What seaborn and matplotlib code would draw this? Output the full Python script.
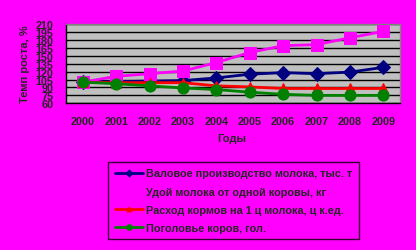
import matplotlib
matplotlib.use("Agg")
import matplotlib.pyplot as plt
import seaborn as sns
import pandas as pd
import numpy as np

years = ["2000", "2001", "2002", "2003", "2004", "2005", "2006", "2007", "2008", "2009"]
series_names = [
    "Валовое производство молока, тыс. т",
    "Удой молока от одной коровы, кг",
    "Расход кормов на 1 ц молока, ц к.ед.",
    "Поголовье коров, гол.",
]
gross_milk = [100, 101, 102, 103, 108, 115, 118, 116, 119, 128]
milk_yield = [100, 111, 116, 121, 137, 156, 169, 171, 184, 196]
feed_use = [100, 99, 99, 99, 93, 91, 88, 88, 88, 88]
cow_count = [100, 97, 93, 89, 86, 81, 77, 75, 75, 75]
y_ticks = [60, 75, 90, 105, 120, 135, 150, 165, 180, 195, 210]

colors = ["#000080", "#FF00FF", "#FF0000", "#008000"]
markers = ["D", "s", "^", "o"]
msizes = [7, 8.5, 7, 8]

sns.set_style("white")
plt.rcParams['font.family'] = ['Liberation Sans', 'DejaVu Sans']

fig = plt.figure(figsize=(4.16, 2.51), dpi=100)
fig.patch.set_facecolor("#FF00FF")
ax = fig.add_axes([66/416, 1-104.3/251, 334/416, 79.3/251])
ax.set_facecolor("#C0C0C0")

all_vals = [gross_milk, milk_yield, feed_use, cow_count]
handles = []
for i, (name, vals) in enumerate(zip(series_names, all_vals)):
    df = pd.DataFrame({"x": np.arange(len(years)), "y": vals})
    sns.lineplot(data=df, x="x", y="y", ax=ax, color=colors[i], marker=markers[i],
                 markersize=msizes[i], markeredgecolor=colors[i], linewidth=2.0,
                 label=name, zorder=3 + i)

ax.set_ylim(60, 210)
ax.set_xlim(-0.5, len(years) - 0.5)
ax.set_yticks(y_ticks)
ax.set_yticklabels([str(t) for t in y_ticks], fontsize=7.8, fontweight="bold")
ax.set_xticks(np.arange(len(years)))
ax.set_xticklabels(years, fontsize=7.8, fontweight="bold")
ax.set_xticks(np.arange(-0.5, len(years)), minor=True)
ax.tick_params(axis="x", which="major", length=0, pad=9)
ax.tick_params(axis="x", which="minor", length=4, width=1, color="black", direction="out")
ax.tick_params(axis="y", which="major", length=4, width=1, color="black", direction="out", pad=5)
ax.grid(axis="y", color="black", linewidth=1)
ax.set_axisbelow(True)
for s in ["left", "bottom"]:
    ax.spines[s].set_color("black")
    ax.spines[s].set_linewidth(1)
for s in ["top", "right"]:
    ax.spines[s].set_color("#808080")
    ax.spines[s].set_linewidth(1)

ax.set_xlabel("")
ax.set_ylabel("")
fig.text(232/416, 1-139/251, "Годы", ha="center", va="center", fontsize=8, fontweight="bold")
fig.text(25/416, 1-64/251, "Темп роста, %", ha="center", va="center", rotation=90,
         fontsize=8, fontweight="bold")

h, l = ax.get_legend_handles_labels()
ax.get_legend().remove()
leg = fig.legend(h, l, loc="upper left", bbox_to_anchor=(108/416, 1-163/251),
                 frameon=True, fancybox=False, edgecolor="black", facecolor="none",
                 prop={"size": 7.8, "weight": "bold"}, handlelength=2.6, labelspacing=0.75,
                 borderaxespad=0, borderpad=0.6, handletextpad=0.3, markerscale=0.5)
leg.get_frame().set_linewidth(1)

fig.savefig("out.png", dpi=100, facecolor=fig.get_facecolor())
